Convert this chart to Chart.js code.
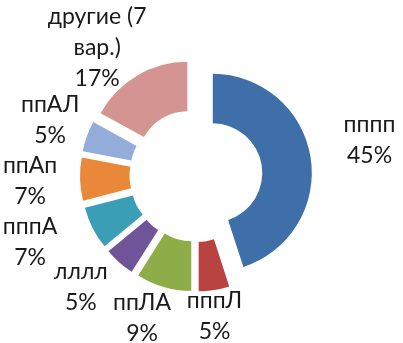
<!DOCTYPE html>
<html><head><meta charset="utf-8">
<style>html,body{margin:0;padding:0;background:#fff}#wrap{width:403px;height:343px;position:relative}</style>
</head><body><div id="wrap"><canvas id="c" width="403" height="343"></canvas></div>
<script src="https://cdn.jsdelivr.net/npm/chart.js@4"></script>
<script>
const categories = ['пппп','пппЛ','ппЛА','лллл','пппА','ппАп','ппАЛ','другие (7 вар.)'];
const values = [45,5,9,5,7,7,5,17];
const percentLabels = ['45%','5%','9%','5%','7%','7%','5%','17%'];
const colors = ['#3E6FA8','#B94341','#8DAD48','#705498','#3A9EB7','#E88838','#94ACDA','#D49492'];

// layout of the outside labels (distance from centre, angular nudge in degrees)
const labelDist = [177,142,152,160,179,166,156,162];
const labelTurn = [-2.4,1.5,4.6,4.6,5,0,1,-7];

const FONT = '23px Lato';
const LINE_H = 31;
const EXPLODE = 17;

function wrap(ctx, text, maxW){
  const words = text.split(' ');
  const lines = [];
  let cur = '';
  for (const w of words){
    const t = cur ? cur + ' ' + w : w;
    if (cur && ctx.measureText(t).width > maxW){ lines.push(cur); cur = w; }
    else cur = t;
  }
  if (cur) lines.push(cur);
  return lines;
}

const explodePlugin = {
  id: 'explode',
  afterDatasetUpdate(chart, args){
    const meta = chart.getDatasetMeta(args.index);
    meta.data.forEach(el => {
      const mid = (el.startAngle + el.endAngle) / 2;
      el.x += Math.cos(mid) * EXPLODE;
      el.y += Math.sin(mid) * EXPLODE;
    });
  },
  afterDatasetsDraw(chart){
    const ctx = chart.ctx;
    const ca = chart.chartArea;
    const cx = (ca.left + ca.right) / 2, cy = (ca.top + ca.bottom) / 2;
    const meta = chart.getDatasetMeta(0);
    ctx.save();
    ctx.font = FONT;
    ctx.fillStyle = '#1a1a1a';
    ctx.textAlign = 'center';
    ctx.textBaseline = 'middle';
    meta.data.forEach((el, i) => {
      const mid = (el.startAngle + el.endAngle) / 2 + labelTurn[i] * Math.PI / 180;
      const px = cx + Math.cos(mid) * labelDist[i];
      const py = cy + Math.sin(mid) * labelDist[i];
      const lines = wrap(ctx, chart.data.labels[i], 115).concat([percentLabels[i]]);
      const y0 = py - (lines.length - 1) * LINE_H / 2;
      lines.forEach((ln, k) => ctx.fillText(ln, px, y0 + k * LINE_H));
    });
    ctx.restore();
  }
};

new Chart(document.getElementById('c'), {
  type: 'doughnut',
  data: {
    labels: categories,
    datasets: [{
      data: values,
      backgroundColor: colors,
      borderWidth: 0
    }]
  },
  options: {
    responsive: false,
    animation: false,
    events: [],
    radius: 99,
    cutout: '50%',
    layout: { padding: { left: 0, right: 11, top: 8, bottom: 0 } },
    plugins: { legend: { display: false }, tooltip: { enabled: false } }
  },
  plugins: [explodePlugin]
});
</script>
</body></html>
